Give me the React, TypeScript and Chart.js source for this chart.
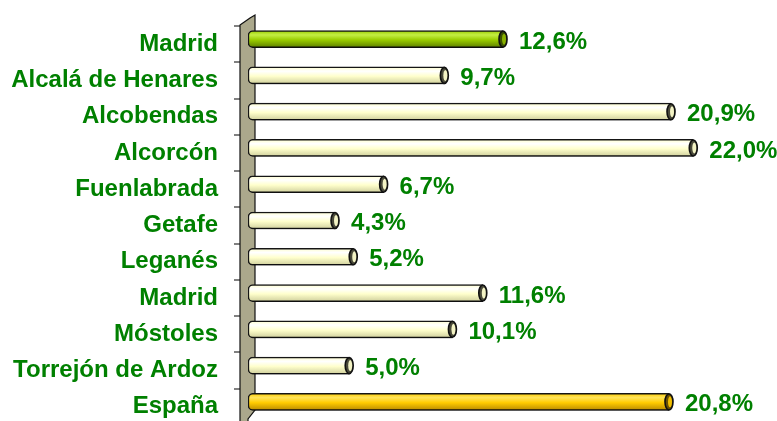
import { useEffect, useRef } from "react";
import { Chart, registerables } from "chart.js";

Chart.register(...registerables);

const categories = [
  "Madrid",
  "Alcalá de Henares",
  "Alcobendas",
  "Alcorcón",
  "Fuenlabrada",
  "Getafe",
  "Leganés",
  "Madrid",
  "Móstoles",
  "Torrejón de Ardoz",
  "España",
];
const values = [12.6, 9.7, 20.9, 22.0, 6.7, 4.3, 5.2, 11.6, 10.1, 5.0, 20.8];
const valueLabels = values.map((v) => v.toFixed(1).replace(".", ",") + "%");

const FONT_SIZE = 24;
const FONT = `bold ${FONT_SIZE}px "Liberation Sans", Arial, sans-serif`;
const GREEN_TEXT = "#008000";

type Pal = { top: string; mid: string; bot: string; cap: string; capIn: string };
const PALETTES: Record<string, Pal> = {
  green: { top: "#c4ee44", mid: "#99cc00", bot: "#5c7d00", cap: "#3a5000", capIn: "#88b000" },
  cream: { top: "#ffffff", mid: "#ffffcc", bot: "#cfcf9c", cap: "#4a4a3a", capIn: "#f3f3c4" },
  gold: { top: "#ffe45a", mid: "#ffcc00", bot: "#b88a00", cap: "#6a5000", capIn: "#f0be00" },
};
const palFor = (i: number): Pal =>
  i === 0 ? PALETTES.green : i === categories.length - 1 ? PALETTES.gold : PALETTES.cream;

const BAR_H = 17;

const wallPlugin = {
  id: "wall",
  beforeDatasetsDraw(chart: any) {
    const { ctx, chartArea, height } = chart;
    const ys = chart.scales.y;
    const L = chartArea.left;
    const top = chartArea.top;
    const step = (chartArea.bottom - chartArea.top) / categories.length;
    ctx.save();
    ctx.strokeStyle = "#808080";
    ctx.lineWidth = 2;
    for (let i = 0; i <= categories.length; i++) {
      const ty = Math.round(ys.getPixelForValue(i) - step / 2 + 5);
      ctx.beginPath();
      ctx.moveTo(L - 14, ty);
      ctx.lineTo(L - 8, ty);
      ctx.stroke();
    }
    ctx.beginPath();
    ctx.moveTo(L - 8, top + 4);
    ctx.lineTo(L + 2, top - 3);
    ctx.lineTo(L + 7, top - 6);
    ctx.lineTo(L + 7, height - 11);
    ctx.lineTo(L, height - 2);
    ctx.lineTo(L, height + 2);
    ctx.lineTo(L - 8, height + 2);
    ctx.closePath();
    ctx.fillStyle = "#aba88c";
    ctx.fill();
    ctx.strokeStyle = "#111";
    ctx.lineWidth = 1.2;
    ctx.stroke();
    ctx.restore();
  },
};

const cylPlugin = {
  id: "cyl",
  beforeDatasetDraw(chart: any) {
    const ctx = chart.ctx;
    ctx.save();
    ctx.shadowColor = "rgba(0,0,0,0.35)";
    ctx.shadowOffsetX = 2;
    ctx.shadowOffsetY = 3;
    ctx.shadowBlur = 3;
  },
  afterDatasetDraw(chart: any) {
    const ctx = chart.ctx;
    ctx.restore();
    const meta = chart.getDatasetMeta(0);
    meta.data.forEach((el: any, i: number) => {
      const p = palFor(i);
      const h = el.height / 2;
      ctx.save();
      ctx.beginPath();
      ctx.ellipse(el.x, el.y, 4, h - 0.5, 0, 0, Math.PI * 2);
      ctx.fillStyle = p.cap;
      ctx.fill();
      ctx.lineWidth = 1.6;
      ctx.strokeStyle = "#111";
      ctx.stroke();
      ctx.beginPath();
      ctx.ellipse(el.x + 1, el.y, 2, h - 3, 0, 0, Math.PI * 2);
      ctx.fillStyle = p.capIn;
      ctx.fill();
      ctx.restore();
    });
  },
  afterDatasetsDraw(chart: any) {
    const ctx = chart.ctx;
    const meta = chart.getDatasetMeta(0);
    ctx.save();
    ctx.font = FONT;
    ctx.fillStyle = GREEN_TEXT;
    ctx.textAlign = "left";
    ctx.textBaseline = "middle";
    meta.data.forEach((el: any, i: number) => {
      ctx.fillText(valueLabels[i], el.x + 16, el.y + 3);
    });
    ctx.restore();
  },
};

export default function App() {
  const ref = useRef<HTMLCanvasElement | null>(null);
  useEffect(() => {
    if (!ref.current) return;
    const chart = new Chart(ref.current, {
      type: "bar",
      data: {
        labels: categories,
        datasets: [
          {
            data: values,
            barThickness: BAR_H,
            borderWidth: 1.5,
            borderColor: "#151515",
            borderSkipped: false,
            borderRadius: { topLeft: 5, bottomLeft: 5, topRight: 0, bottomRight: 0 },
            backgroundColor: (c: any) => {
              const p = palFor(c.dataIndex);
              const ch = c.chart;
              if (!ch.chartArea || !ch.scales.y) return p.mid;
              const yc = ch.scales.y.getPixelForValue(c.dataIndex);
              const g = ch.ctx.createLinearGradient(0, yc - BAR_H / 2, 0, yc + BAR_H / 2);
              g.addColorStop(0, p.mid);
              g.addColorStop(0.25, p.top);
              g.addColorStop(0.55, p.mid);
              g.addColorStop(1, p.bot);
              return g;
            },
          } as any,
        ],
      },
      options: {
        indexAxis: "y",
        animation: false,
        responsive: false,
        maintainAspectRatio: false,
        layout: { padding: { top: 21, bottom: 1, right: 23, left: 0 } },
        plugins: { legend: { display: false }, tooltip: { enabled: false } },
        scales: {
          x: { display: false, min: 0, max: 25 },
          y: {
            type: "category",
            afterFit: (s: any) => {
              s.width = 248;
              s.paddingTop = 0;
              s.paddingBottom = 0;
            },
            grid: {
              display: true,
              drawOnChartArea: false,
              drawTicks: true,
              tickLength: 30,
              color: "rgba(0,0,0,0)",
            },
            border: { display: false },
            ticks: {
              autoSkip: false,
              padding: 0,
              labelOffset: 5,
              color: GREEN_TEXT,
              font: { family: '"Liberation Sans", Arial, sans-serif', size: FONT_SIZE, weight: "bold" },
            },
          },
        },
      },
      plugins: [wallPlugin, cylPlugin],
    });
    return () => chart.destroy();
  }, []);
  return (
    <div style={{ position: "absolute", left: 0, top: 0, width: 777, height: 421, background: "#fff" }}>
      <canvas ref={ref} width={777} height={421} style={{ width: 777, height: 421, display: "block" }} />
    </div>
  );
}
